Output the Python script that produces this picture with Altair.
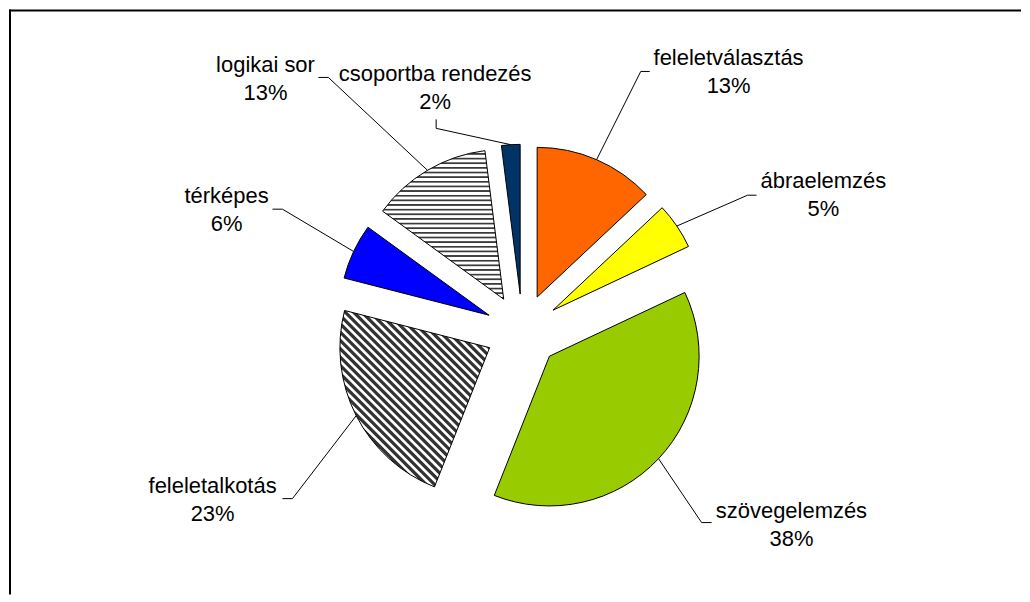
import math
import pandas as pd
import altair as alt

# ---- data ----
categories = ["feleletválasztás", "ábraelemzés", "szövegelemzés", "feleletalkotás",
              "térképes", "logikai sor", "csoportba rendezés"]
values = [13, 5, 38, 23, 6, 13, 2]
colors = ["#FF6600", "#FFFF00", "#99CC00", "#FFFFFF", "#0000FF", "#FFFFFF", "#003366"]

# ---- layout (page pixels) ----
W, H = 1014, 586
PAGE_OFF = 8
CX_PAGE, CY_PAGE = 522.5, 330.0          # pie centre on the page
CX, CY = CX_PAGE - PAGE_OFF, CY_PAGE - PAGE_OFF
R = 150                                  # pie radius
EXPLODE = 37                             # slice explosion distance
FONT = "Liberation Sans"
FS = 22
LINE_GAP = 28

# label centre x and first-line baseline y (page pixels)
label_pos = {
    "feleletválasztás": (729, 64),
    "ábraelemzés": (824, 187),
    "szövegelemzés": (792, 517),
    "feleletalkotás": (212, 492),
    "térképes": (226, 202),
    "logikai sor": (265, 71),
    "csoportba rendezés": (435, 80),
}
# leader line elbow and stub end (page pixels)
leader_pts = {
    "feleletválasztás": [(641, 70), (650, 70)],
    "ábraelemzés": [(748, 194), (757, 194)],
    "szövegelemzés": [(702, 522), (712, 522)],
    "feleletalkotás": [(292, 498), (282, 498)],
    "térképes": [(282, 208), (272, 208)],
    "logikai sor": [(328, 76), (318, 76)],
    "csoportba rendezés": [(436, 127), (436, 118)],
}


def ux(px):
    return px - CX_PAGE


def uy(py):
    return CY_PAGE - py


xs = alt.Scale(domain=[-CX, W - CX], nice=False, zero=False)
ys = alt.Scale(domain=[CY - H, CY], nice=False, zero=False)
ts = alt.Scale(domain=[0, 100], range=[0, 2 * math.pi])

df = pd.DataFrame({"cat": categories, "value": values, "order": list(range(len(values)))})

base = (
    alt.Chart(df)
    .transform_window(cum="sum(value)", sort=[alt.SortField("order")], frame=[None, 0])
    .transform_calculate(start="datum.cum - datum.value")
    .transform_calculate(mid="(datum.cum - datum.value / 2) / 100 * 2 * PI")
    .transform_calculate(ex=f"{EXPLODE} * sin(datum.mid)")
    .transform_calculate(ey=f"{EXPLODE} * cos(datum.mid)")
)

enc = dict(
    x=alt.X("ex:Q", scale=xs, axis=None),
    y=alt.Y("ey:Q", scale=ys, axis=None),
    theta=alt.Theta("start:Q", scale=ts, stack=False),
    theta2="cum:Q",
)


def stripes(n, dark, x1, y1, x2, y2, a=0.35, b=0.55, c=0.8):
    stops = []
    for i in range(n):
        stops += [
            {"offset": i / n, "color": "#FFFFFF"},
            {"offset": (i + a) / n, "color": "#FFFFFF"},
            {"offset": (i + b) / n, "color": dark},
            {"offset": (i + c) / n, "color": dark},
        ]
    stops.append({"offset": 1.0, "color": "#FFFFFF"})
    return {"gradient": "linear", "x1": x1, "y1": y1, "x2": x2, "y2": y2, "stops": stops}


hatched = ["feleletalkotás", "logikai sor"]

solid = (
    base.transform_filter(alt.FieldOneOfPredicate(field="cat", oneOf=[c for c in categories if c not in hatched]))
    .mark_arc(outerRadius=R, stroke="black", strokeWidth=1)
    .encode(color=alt.Color("cat:N", scale=alt.Scale(domain=categories, range=colors), legend=None), **enc)
)

horiz = (
    base.transform_filter(alt.datum.cat == "logikai sor")
    .mark_arc(outerRadius=R, stroke="black", strokeWidth=1,
              fill=stripes(32, "#3a3a3a", 0, 0, 0, 1, a=0.45, b=0.6, c=0.8))
    .encode(**enc)
)

diag = (
    base.transform_filter(alt.datum.cat == "feleletalkotás")
    .mark_arc(outerRadius=R, stroke="black", strokeWidth=1,
              fill=stripes(43, "#333333", 0, 1, 1, -0.18, a=0.3, b=0.45, c=0.85))
    .encode(**enc)
)

# leader lines: arc mid-point of the exploded slice -> elbow -> stub
rows = []
cum = 0
for cat, v in zip(categories, values):
    mid = (cum + v / 2) / 100 * 2 * math.pi
    cum += v
    ax = (EXPLODE + R) * math.sin(mid)
    ay = (EXPLODE + R) * math.cos(mid)
    pts = [(ax, ay)] + [(ux(px), uy(py)) for px, py in leader_pts[cat]]
    for i, (lx, ly) in enumerate(pts):
        rows.append({"cat": cat, "idx": i, "lx": lx, "ly": ly})
lines_df = pd.DataFrame(rows)

leaders = alt.Chart(lines_df).mark_line(color="black", strokeWidth=1).encode(
    x=alt.X("lx:Q", scale=xs, axis=None),
    y=alt.Y("ly:Q", scale=ys, axis=None),
    detail="cat:N",
    order="idx:Q",
)

lab_df = pd.DataFrame({
    "cat": categories,
    "pct": [f"{v}%" for v in values],
    "tx": [ux(label_pos[c][0]) for c in categories],
    "ty1": [uy(label_pos[c][1]) for c in categories],
    "ty2": [uy(label_pos[c][1] + LINE_GAP) for c in categories],
})

names = alt.Chart(lab_df).mark_text(font=FONT, fontSize=FS, align="center", baseline="alphabetic",
                                    color="black").encode(
    x=alt.X("tx:Q", scale=xs, axis=None), y=alt.Y("ty1:Q", scale=ys, axis=None), text="cat:N")
pcts = alt.Chart(lab_df).mark_text(font=FONT, fontSize=FS, align="center", baseline="alphabetic",
                                   color="black").encode(
    x=alt.X("tx:Q", scale=xs, axis=None), y=alt.Y("ty2:Q", scale=ys, axis=None), text="pct:N")

dummy = pd.DataFrame({"a": [0]})
top_border = alt.Chart(dummy).mark_rule(color="black", strokeWidth=2).encode(
    x=alt.value(0), x2=alt.value(W), y=alt.value(1))
left_border = alt.Chart(dummy).mark_rule(color="black", strokeWidth=2).encode(
    x=alt.value(1), y=alt.value(0), y2=alt.value(H))

chart = (
    alt.layer(solid, horiz, diag, leaders, names, pcts, top_border, left_border)
    .properties(width=W, height=H, padding=0, background="white")
    .configure_view(stroke=None)
)

chart.save("out.html", embed_options={"renderer": "svg", "actions": False})
